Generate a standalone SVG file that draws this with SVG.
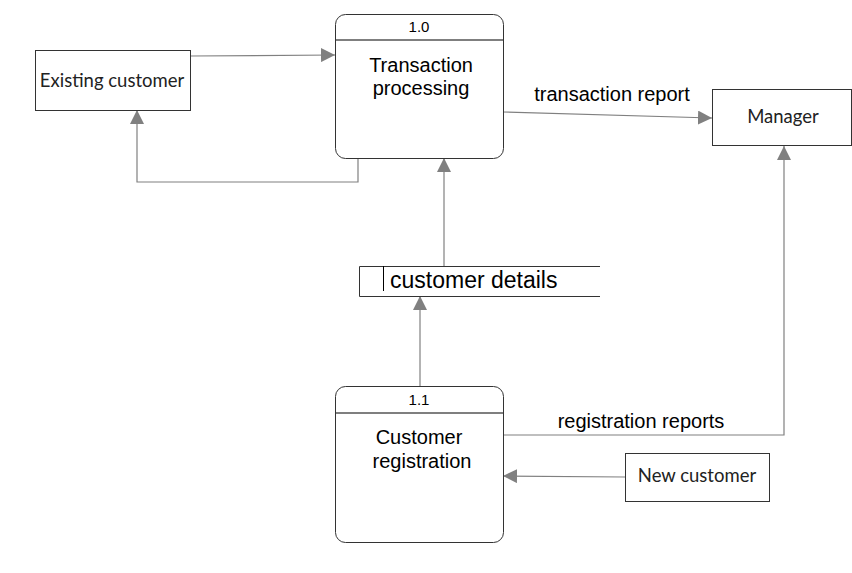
<svg xmlns="http://www.w3.org/2000/svg" width="852" height="573" viewBox="0 0 852 573">
<style>
.proc{fill:#fff;stroke:#333;stroke-width:1}
.ent{fill:#fff;stroke:#333;stroke-width:1}
.hdr{stroke:#555;stroke-width:1.5}
.conn{fill:none;stroke:#808080;stroke-width:1.2}
.t{font-family:"Liberation Sans",Arial,sans-serif;fill:#000}
.c{font-family:Lato,"Open Sans",sans-serif;fill:#222}
</style>
<defs>
<marker id="arr" viewBox="0 0 10 10" refX="10" refY="5" markerWidth="14" markerHeight="14" markerUnits="userSpaceOnUse" orient="auto">
<path d="M0,0 L10,5 L0,10 Z" fill="#808080"/>
</marker>
</defs>
<rect width="852" height="573" fill="#fff"/>
<g id="connectors">
<path class="conn" d="M190,56 L335,55" marker-end="url(#arr)"/>
<path class="conn" d="M358,158 L358,182 L137,182 L137,110" marker-end="url(#arr)"/>
<path class="conn" d="M503,112 L712,118" marker-end="url(#arr)"/>
<path class="conn" d="M444,266 L444,158" marker-end="url(#arr)"/>
<path class="conn" d="M420,386 L420,296" marker-end="url(#arr)"/>
<path class="conn" d="M503,435 L784,435 L784,146" marker-end="url(#arr)"/>
<path class="conn" d="M625,477 L503,476" marker-end="url(#arr)"/>
<text class="t" x="612" y="101" font-size="20" text-anchor="middle">transaction report</text>
<text class="t" x="641" y="428" font-size="20" text-anchor="middle">registration reports</text>
</g>
<g id="p1_0">
<rect class="proc" x="335.5" y="14.5" width="168" height="144" rx="10"/>
<line class="hdr" x1="336" y1="40" x2="503" y2="40"/>
<text class="t" x="419" y="32" font-size="15" text-anchor="middle">1.0</text>
<text class="t" x="421" y="72" font-size="20" text-anchor="middle">Transaction</text>
<text class="t" x="421" y="95" font-size="20" text-anchor="middle">processing</text>
</g>
<g id="existing_customer">
<rect class="ent" x="35.5" y="50.5" width="155" height="60"/>
<text class="c" x="112" y="87" font-size="18.5" text-anchor="middle">Existing customer</text>
</g>
<g id="manager">
<rect class="ent" x="712.5" y="89.5" width="139" height="56"/>
<text class="c" x="783" y="123" font-size="18.5" text-anchor="middle">Manager</text>
</g>
<g id="customer_details">
<path d="M600,266.5 L359.5,266.5 L359.5,296.5 L600,296.5" fill="none" stroke="#333" stroke-width="1"/>
<line x1="383.5" y1="266" x2="383.5" y2="291" stroke="#000" stroke-width="1"/>
<text class="t" x="390" y="288" font-size="23">customer details</text>
</g>
<g id="p1_1">
<rect class="proc" x="335.5" y="386.5" width="168" height="156" rx="10"/>
<line class="hdr" x1="336" y1="413" x2="503" y2="413"/>
<text class="t" x="419" y="405" font-size="15" text-anchor="middle">1.1</text>
<text class="t" x="419" y="444" font-size="20" text-anchor="middle">Customer</text>
<text class="t" x="422" y="468" font-size="20" text-anchor="middle">registration</text>
</g>
<g id="new_customer">
<rect class="ent" x="625.5" y="453.5" width="144" height="48"/>
<text class="c" x="697" y="482" font-size="18.5" text-anchor="middle">New customer</text>
</g>
</svg>
